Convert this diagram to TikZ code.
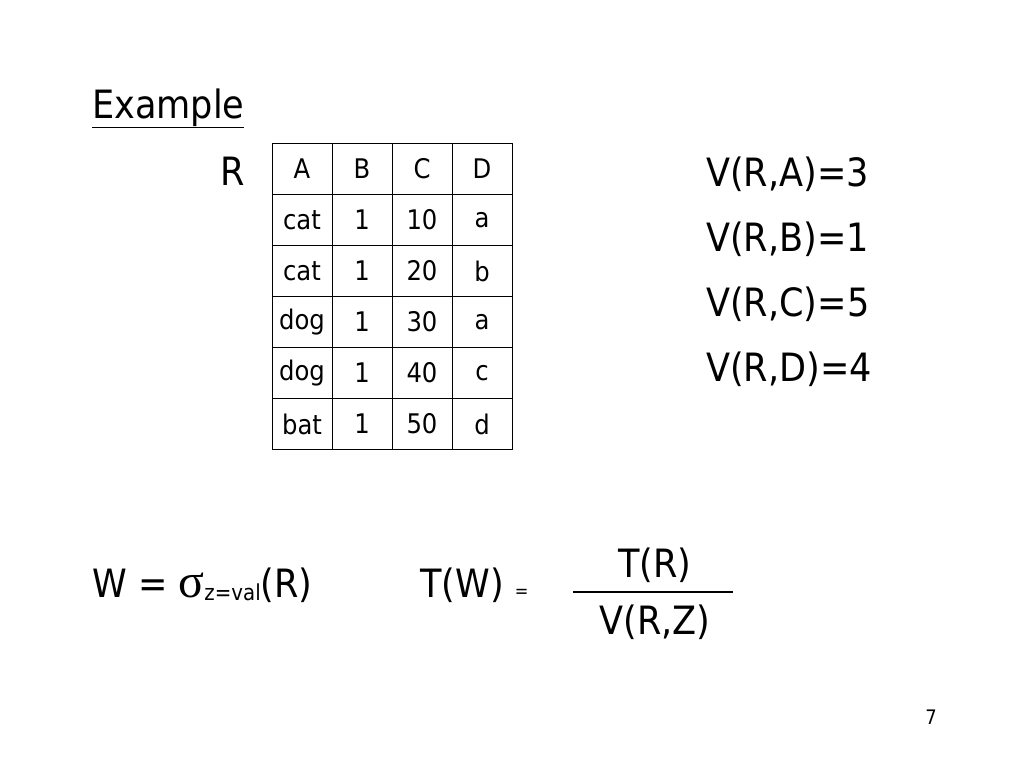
\documentclass[tikz,border=0pt]{standalone}
\usepackage{fontspec}
\setmainfont{DejaVu Sans Condensed}
\newfontfamily\sigfont{Liberation Serif}
\begin{document}
\begin{tikzpicture}[x=1pt,y=-1pt,
  cell/.style={draw,minimum width=60pt,minimum height=51pt,inner sep=0pt,font=\fontsize{27}{30}\selectfont},
  big/.style={inner sep=0pt,anchor=base west,font=\fontsize{39}{44}\selectfont}]
\useasboundingbox (0,0) rectangle (1024,768);
\node[big] (title) at (92,118) {\underline{Example}};
\node[big] (r) at (220,185) {R};
\foreach \r [count=\i from 0] in {{A,B,C,D},{cat,1,10,a},{cat,1,20,b},{dog,1,30,a},{dog,1,40,c},{bat,1,50,d}}{
  \foreach \c [count=\j from 0] in \r {
    \node[cell] (c\i\j) at (302+60*\j,169+51*\i) {\c};
  }
}
\node[big] (va) at (706,186) {V(R,A)=3};
\node[big] (vb) at (706,251) {V(R,B)=1};
\node[big] (vc) at (706,316) {V(R,C)=5};
\node[big] (vd) at (706,381) {V(R,D)=4};
\node[big] (w) at (92,597) {W = {\sigfont\fontsize{48}{50}\selectfont σ}\raisebox{-3pt}{\fontsize{22}{24}\selectfont z=val}(R)};
\node[big] (tw) at (420,597) {T(W) {\fontsize{18}{20}\selectfont =}};
\node[big,anchor=base] (tr) at (655,577) {T(R)};
\coordinate (l1) at (573,592);
\coordinate (l2) at (733,592);
\draw[line width=2pt] (l1) -- (l2);
\node[big,anchor=base] (vz) at (655,634) {V(R,Z)};
\node[inner sep=0pt,anchor=base,font=\fontsize{20}{22}\selectfont] (pg) at (931,724) {7};
\end{tikzpicture}
\end{document}
